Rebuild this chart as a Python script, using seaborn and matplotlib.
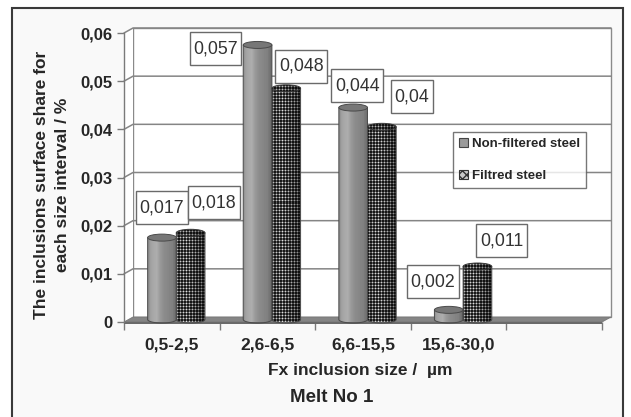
import numpy as np
import pandas as pd
import matplotlib
matplotlib.use("Agg")
import matplotlib.pyplot as plt
import seaborn as sns
from matplotlib.patches import Rectangle, Ellipse, Polygon, Patch
from matplotlib.path import Path

# ---- data -------------------------------------------------------------
size_intervals = ["0,5-2,5", "2,6-6,5", "6,6-15,5", "15,6-30,0"]
series_names = ["Non-filtered steel", "Filtred steel"]
non_filtered = [0.017, 0.057, 0.044, 0.002]
filtred = [0.018, 0.048, 0.04, 0.011]
labels_non_filtered = ["0,017", "0,057", "0,044", "0,002"]
labels_filtred = ["0,018", "0,048", "0,04", "0,011"]
y_ticks = [0, 0.01, 0.02, 0.03, 0.04, 0.05, 0.06]
y_tick_labels = ["0", "0,01", "0,02", "0,03", "0,04", "0,05", "0,06"]

df = pd.DataFrame({
    "size": size_intervals * 2,
    "share": non_filtered + filtred,
    "steel": [series_names[0]] * len(non_filtered) + [series_names[1]] * len(filtred),
})

# ---- style ------------------------------------------------------------
sns.set_theme(style="white")
plt.rcParams["font.family"] = ["Liberation Sans", "DejaVu Sans"]
TXT = "#262626"
AXC = "#7a7a7a"

W, H, DPI = 631, 417, 100
fig = plt.figure(figsize=(W / DPI, H / DPI), dpi=DPI, facecolor="white")

# outer chart frame (behind the axes)
fig.patches.append(Rectangle((12 / W, -0.05), (623 - 12) / W, (1 - 8 / H) + 0.05,
                             transform=fig.transFigure, fc="#f9f9f9", ec="#3a3a3a",
                             lw=1.5, zorder=-5))

# front plane of the 3-D plot (five category slots, last one empty)
n_slots = 5
x_lo, x_hi = -0.5, n_slots - 0.5
y_lo, y_hi = 0.0, 0.06
ax_l, ax_r, ax_t, ax_b = 124, 602, 33, 322
ax = fig.add_axes([ax_l / W, 1 - ax_b / H, (ax_r - ax_l) / W, (ax_b - ax_t) / H])
ax.set_facecolor("white")

# depth offset of the back wall (9 px right, 5 px up) in data units
DX = 9 * (x_hi - x_lo) / (ax_r - ax_l)
DY = 5 * (y_hi - y_lo) / (ax_b - ax_t)
EH = 7 * (y_hi - y_lo) / (ax_b - ax_t)   # ellipse height of cylinder caps

sns.barplot(data=df, x="size", y="share", hue="steel", order=size_intervals,
            hue_order=series_names, width=0.6, palette=["#999999", "#555555"],
            errorbar=None, legend=False, ax=ax)
ax.set_xlim(x_lo, x_hi)
ax.set_ylim(y_lo, y_hi)
ax.set_autoscale_on(False)
ax.set_xlabel("")
ax.set_ylabel("")

# back wall, side wall and floor
wall = Polygon([(x_lo + DX, DY), (x_hi + DX, DY), (x_hi + DX, y_hi + DY), (x_lo + DX, y_hi + DY)],
               closed=True, fc="white", ec="#8a8a8a", lw=1.0, zorder=0.5, clip_on=False)
side = Polygon([(x_lo, 0), (x_lo + DX, DY), (x_lo + DX, y_hi + DY), (x_lo, y_hi)],
               closed=True, fc="white", ec="none", zorder=0.5, clip_on=False)
ax.add_patch(wall)
ax.add_patch(side)
for v in y_ticks[1:]:
    ax.plot([x_lo, x_lo + DX, x_hi + DX], [v, v + DY, v + DY], color="#858585",
            lw=1.1, zorder=1, clip_on=False)
floor_top = Polygon([(x_lo, 0), (x_hi, 0), (x_hi + DX, DY), (x_lo + DX, DY)],
                    closed=True, fc="#858585", ec="#767676", lw=0.6, zorder=2, clip_on=False)
floor_front = Polygon([(x_lo, 0), (x_hi, 0), (x_hi, -0.45 * DY), (x_lo, -0.45 * DY)],
                      closed=True, fc="#6a6a6a", ec="none", zorder=2, clip_on=False)
ax.add_patch(floor_top)
ax.add_patch(floor_front)

DOT_TILE = np.array([[0.10, 0.40, 0.10],
                     [0.40, 0.88, 0.40],
                     [0.10, 0.40, 0.10]])


def body_image(kind, nx, ny):
    t = (np.arange(nx) + 0.5) / nx
    if kind == 0:
        prof = np.interp(t, [0, 0.1, 0.3, 0.42, 0.55, 0.85, 1.0],
                         [0.52, 0.64, 0.68, 0.60, 0.55, 0.50, 0.40])
        return np.tile(prof, (ny, 1))
    prof = np.interp(t, [0, 0.35, 1.0], [0.8, 1.0, 0.55])
    tiled = np.tile(DOT_TILE, (ny // 3 + 1, nx // 3 + 1))[:ny, :nx]
    return tiled * prof[None, :]


# cylinders built on the seaborn bar geometry
for k, cont in enumerate(ax.containers):
    for bar in cont.patches:
        bar.set_visible(False)
        x0 = bar.get_x() + DX / 2
        w = bar.get_width()
        h = bar.get_height()
        yb = DY / 2
        yt = yb + h
        xc = x0 + w / 2
        th = np.linspace(np.pi, 2 * np.pi, 40)
        arc = np.column_stack([xc + w / 2 * np.cos(th), yb + EH / 2 * np.sin(th)])
        outline = np.vstack([[x0, yt], arc, [x0 + w, yt]])
        body = Polygon(outline, closed=True, fc="none", ec="#4a4a4a", lw=0.7, zorder=4,
                       clip_on=False)
        ax.add_patch(body)
        p0 = ax.transData.transform((x0, yb - EH / 2))
        p1 = ax.transData.transform((x0 + w, yt + EH / 2))
        nx = max(int(round(p1[0] - p0[0])), 2)
        ny = max(int(round(p1[1] - p0[1])), 2)
        im = ax.imshow(body_image(k, nx, ny), cmap="gray", vmin=0, vmax=1,
                       extent=[x0, x0 + w, yb - EH / 2, yt + EH / 2], origin="lower",
                       aspect="auto", interpolation="nearest", zorder=3)
        im.set_clip_path(body)
        if k == 0:
            cap = Ellipse((xc, yt), w, EH, fc="#777777", ec="#4a4a4a", lw=0.7, zorder=5,
                          clip_on=False)
            ax.add_patch(cap)
        else:
            cap = Ellipse((xc, yt), w, EH, fc="none", ec="#3a3a3a", lw=0.7, zorder=5,
                          clip_on=False)
            ax.add_patch(cap)
            imc = ax.imshow(body_image(k, nx, ny) * 0.85, cmap="gray", vmin=0, vmax=1,
                            extent=[x0, x0 + w, yb - EH / 2, yt + EH / 2], origin="lower",
                            aspect="auto", interpolation="nearest", zorder=4.5)
            imc.set_clip_path(cap)

ax.set_xlim(x_lo, x_hi)
ax.set_ylim(y_lo, y_hi)


def label_box(x0, y0, width, height, mutation_size):
    """Rectangular box with narrow side padding and taller top/bottom padding."""
    px, py = 0.2 * mutation_size, 0.45 * mutation_size
    return Path([(x0 - px, y0 - py), (x0 + width + px, y0 - py),
                 (x0 + width + px, y0 + height + py), (x0 - px, y0 + height + py),
                 (x0 - px, y0 - py)], closed=True)


# value labels in boxes
label_offsets = [
    [(0, 30), (-42, -4), (4, 22), (-16, 28)],
    [(23, 30), (15, 22), (30, 30), (24, 26)],
]
value_labels = [labels_non_filtered, labels_filtred]
for k, cont in enumerate(ax.containers):
    for i, bar in enumerate(cont.patches):
        xc = bar.get_x() + bar.get_width() / 2 + DX / 2
        yv = bar.get_height() + DY / 2
        ax.annotate(value_labels[k][i], xy=(xc, yv), xytext=label_offsets[k][i],
                    textcoords="offset pixels", ha="center", va="center",
                    fontsize=12.8, color="#333333", zorder=7, annotation_clip=False,
                    bbox=dict(boxstyle=label_box, fc="white", ec="#6a6a6a", lw=1.0))

# axes, ticks
for s in ["top", "right", "bottom"]:
    ax.spines[s].set_visible(False)
ax.spines["left"].set_color(AXC)
ax.spines["left"].set_linewidth(1.0)
ax.spines["left"].set_zorder(2)
ax.set_yticks(y_ticks, y_tick_labels)
ax.set_xticks(range(len(size_intervals)), size_intervals)
ax.set_xticks(np.arange(x_lo, x_hi + 0.01, 1.0), minor=True)
ax.tick_params(axis="y", which="major", left=True, length=5, width=1, color=AXC,
               pad=3, labelsize=12, labelcolor=TXT)
ax.tick_params(axis="x", which="major", bottom=True, length=0, pad=11,
               labelsize=12.5, labelcolor=TXT)
ax.tick_params(axis="x", which="minor", bottom=True, length=6, width=1, color=AXC)
for lab in ax.get_yticklabels() + ax.get_xticklabels():
    lab.set_fontweight("bold")
ax.grid(False)

# legend
handles = [Patch(fc="#9a9a9a", ec="#444444", lw=0.8),
           Patch(fc="#c8c8c8", ec="#333333", hatch="xxxx", lw=0.8)]
leg = fig.legend(handles, series_names, loc="upper left",
                 bbox_to_anchor=(453 / W, 1 - 132 / H), bbox_transform=fig.transFigure,
                 frameon=True, fancybox=False, prop=dict(weight="bold", size=9.5),
                 handlelength=0.7, handleheight=0.7, handletextpad=0.3,
                 labelspacing=1.5, borderpad=0.45, borderaxespad=0)
leg.get_frame().set_edgecolor("#555555")
leg.get_frame().set_linewidth(1.0)
leg.get_frame().set_facecolor("white")
for t in leg.get_texts():
    t.set_color(TXT)

# axis titles and chart title
fig.text(52 / W, 1 - 185 / H, "The inclusions surface share for\neach size interval / %",
         rotation=90, ha="center", va="center", multialignment="center",
         fontsize=12.5, fontweight="bold", color=TXT, linespacing=1.55)
fig.text(360 / W, 1 - 370 / H, "Fx inclusion size /  µm", ha="center", va="center",
         fontsize=12.5, fontweight="bold", color=TXT)
fig.text(332 / W, 1 - 398 / H, "Melt No 1", ha="center", va="center",
         fontsize=13.5, fontweight="bold", color=TXT)

fig.savefig("out.png", dpi=DPI, facecolor="white")
